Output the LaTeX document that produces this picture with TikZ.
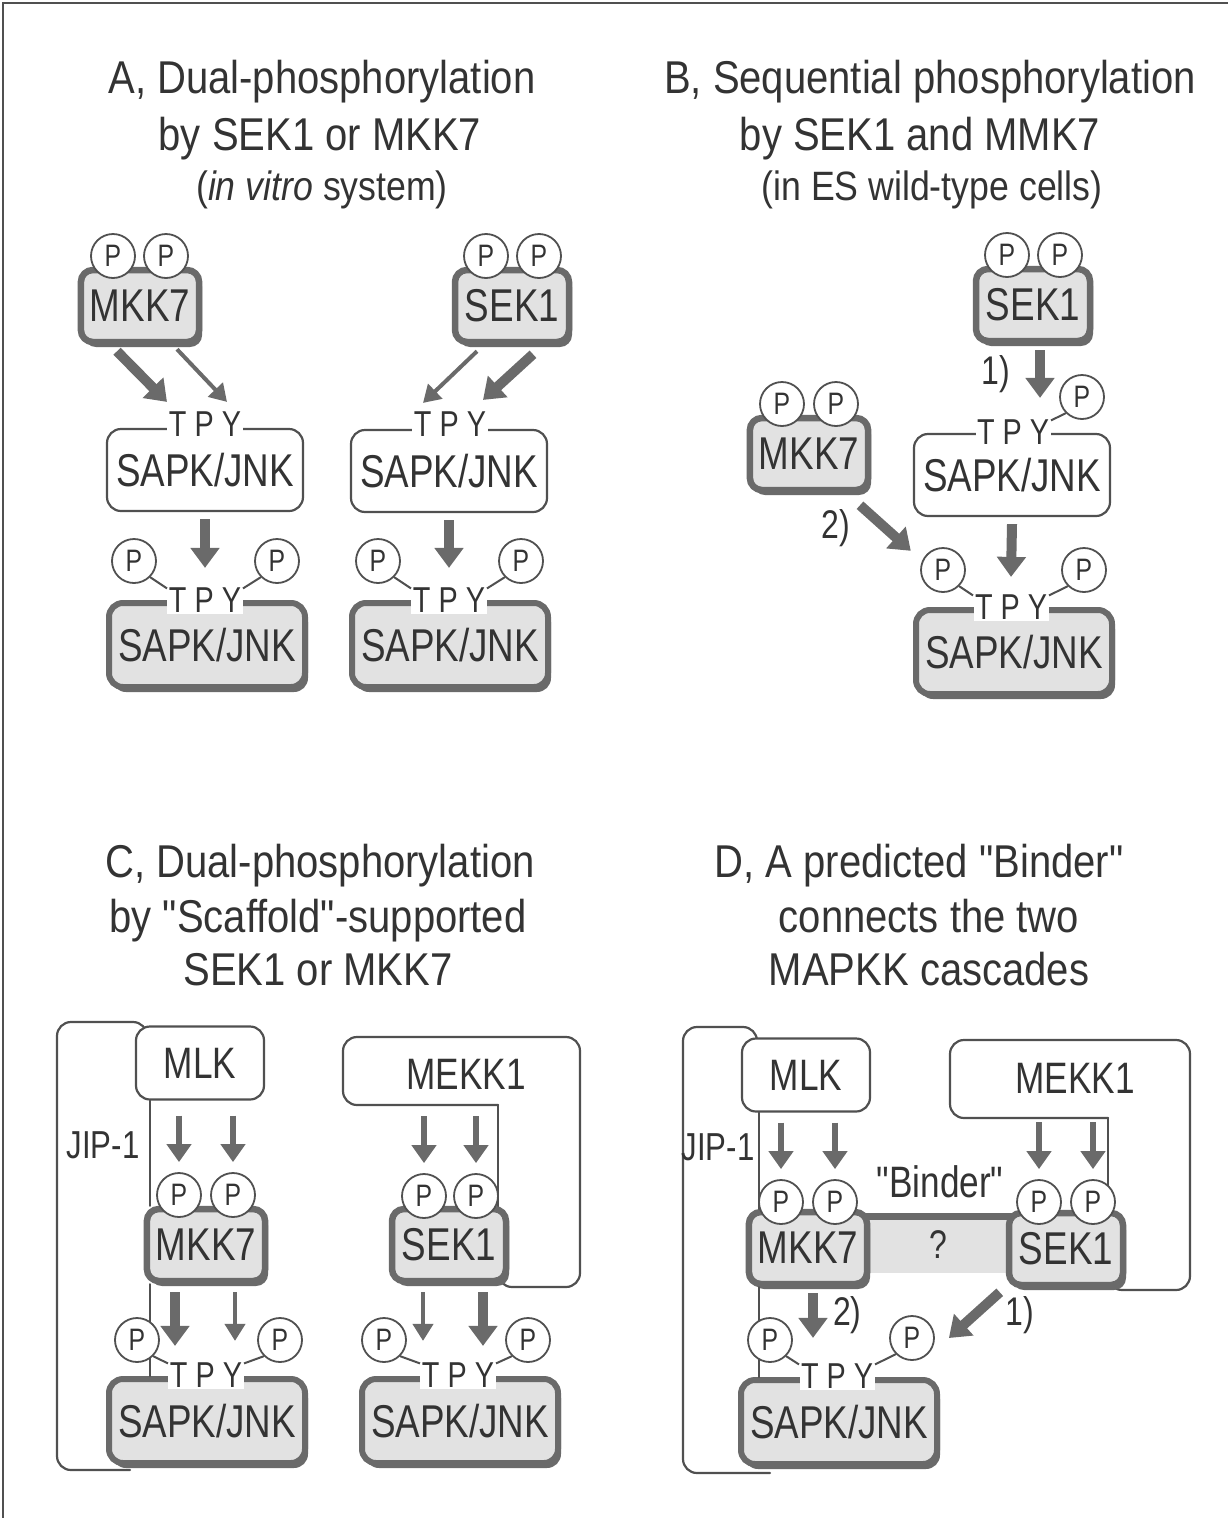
\documentclass[tikz,border=0pt]{standalone}
\usepackage{fontspec}
\newfontfamily\hvnarrow{Liberation Sans}[FakeStretch=0.8]
\newfontfamily\hvtitle{Liberation Sans}[FakeStretch=0.87]
\usepackage{tikz}
\usetikzlibrary{arrows.meta,positioning,calc,shadows}
\usepackage{xcolor}
\definecolor{kdark}{HTML}{6A6A6A}
\definecolor{kline}{HTML}{505050}
\definecolor{kfill}{HTML}{E2E2E2}
\definecolor{ktext}{HTML}{333333}
\tikzset{
  ttl/.style={anchor=base, inner sep=0pt, text=ktext, font=\hvtitle\fontsize{46}{46}\selectfont},
  subttl/.style={ttl, font=\hvtitle\fontsize{41}{41}\selectfont},
  kin/.style={draw=kdark, line width=6.5pt, fill=kfill, rounded corners=12pt, minimum width=114pt, minimum height=72pt, inner xsep=9pt, text=ktext, font=\hvnarrow\fontsize{46}{46}\selectfont, drop shadow={shadow xshift=3pt, shadow yshift=-5pt, fill=kdark, opacity=1}},
  pho/.style={circle, draw=kline, line width=1.8pt, fill=white, minimum size=44pt, inner sep=0pt, text=ktext, font=\hvnarrow\fontsize{31}{31}\selectfont},
  jnk/.style={draw=kline, line width=2.2pt, fill=white, rounded corners=14pt, minimum width=196pt, minimum height=82pt, text=ktext, font=\hvnarrow\fontsize{46}{46}\selectfont},
  pjnk/.style={jnk, draw=kdark, line width=6pt, fill=kfill, minimum height=84pt, drop shadow={shadow xshift=3pt, shadow yshift=-5pt, fill=kdark, opacity=1}},
  mbox/.style={draw=kline, line width=2.2pt, fill=white, rounded corners=14pt, minimum width=128pt, minimum height=73pt, text=ktext, font=\hvnarrow\fontsize{44}{44}\selectfont},
  tpy/.style={fill=white, inner sep=1.5pt, text=ktext, font=\hvnarrow\fontsize{36}{36}\selectfont},
  lbl/.style={inner sep=1pt, text=ktext, font=\hvnarrow\fontsize{44}{44}\selectfont},
  jip/.style={lbl, font=\hvnarrow\fontsize{39}{39}\selectfont},
  num/.style={inner sep=0pt, text=ktext, font=\hvnarrow\fontsize{40}{40}\selectfont},
  bind/.style={fill=kfill, minimum width=150pt, minimum height=56pt, inner sep=0pt, text=ktext, font=\hvnarrow\fontsize{40}{40}\selectfont},
  bindtop/.style={draw=kdark, line width=7pt},
  thk/.style={-{Triangle[length=20pt,width=28pt]}, line width=10pt, draw=kdark},
  thn/.style={-{Triangle[length=17pt,width=20pt]}, line width=4pt, draw=kdark},
  mid/.style={-{Triangle[length=18pt,width=24pt]}, line width=5.5pt, draw=kdark},
  lnk/.style={draw=kline, line width=2pt},
  scaf/.style={draw=kline, line width=2.2pt, line cap=round},
  frm/.style={draw=kline, line width=2.5pt}
}
\begin{document}
\begin{tikzpicture}[x=1pt,y=-1pt]
  \useasboundingbox (0,0) rectangle (1228,1518);
  \draw[frm] (3,1518) -- (3,3) -- (1228,3);

  \node[ttl] (ttlA1) at (322,93) {A, Dual-phosphorylation};
  \node[ttl] (ttlA2) at (320,150) {by SEK1 or MKK7};
  \node[subttl] (ttlA3) at (322,200) {(\textit{in vitro} system)};
  \node[ttl] (ttlB1) at (930,93) {B, Sequential phosphorylation};
  \node[ttl] (ttlB2) at (920,150) {by SEK1 and MMK7};
  \node[subttl] (ttlB3) at (932,200) {(in ES wild-type cells)};
  \node[ttl] (ttlC1) at (320,877) {C, Dual-phosphorylation};
  \node[ttl] (ttlC2) at (318,932) {by "Scaffold"-supported};
  \node[ttl] (ttlC3) at (318,985) {SEK1 or MKK7};
  \node[ttl] (ttlD1) at (919,877) {D, A predicted "Binder"};
  \node[ttl] (ttlD2) at (929,932) {connects the two};
  \node[ttl] (ttlD3) at (929,985) {MAPKK cascades};

  \node[kin] (mkA) at (140,306) {MKK7};
  \node[pho] (pA1) at (113,256) {P};
  \node[pho] (pA2) at (166,256) {P};
  \node[kin] (sekA) at (512,306) {SEK1};
  \node[pho] (pA3) at (486,256) {P};
  \node[pho] (pA4) at (539,256) {P};
  \node[jnk] (jnkA1) at (205,470) {SAPK/JNK};
  \node[tpy] (tpyA1) at (205,424) {T P Y};
  \node[jnk] (jnkA2) at (449,471) {SAPK/JNK};
  \node[tpy] (tpyA2) at (450,424) {T P Y};
  \node[pjnk] (jnkA3) at (207,645) {SAPK/JNK};
  \node[tpy] (tpyA3) at (205,600) {T P Y};
  \node[pho] (pA5) at (134,561) {P};
  \node[pho] (pA6) at (277,561) {P};
  \node[pjnk] (jnkA4) at (450,645) {SAPK/JNK};
  \node[tpy] (tpyA4) at (449,600) {T P Y};
  \node[pho] (pA7) at (378,561) {P};
  \node[pho] (pA8) at (521,561) {P};
  \draw[thk] ([xshift=-23pt,yshift=-6pt]mkA.south) -- ([xshift=-38pt,yshift=8pt]tpyA1.north);
  \draw[thn] ([xshift=37pt,yshift=-4pt]mkA.south) -- ([xshift=22pt,yshift=8pt]tpyA1.north);
  \draw[thn] ([xshift=-35pt,yshift=-6pt]sekA.south) -- ([xshift=-27pt,yshift=7pt]tpyA2.north);
  \draw[thk] ([xshift=21pt,yshift=-9pt]sekA.south) -- ([xshift=33pt,yshift=10pt]tpyA2.north);
  \draw[thk] ([yshift=-7pt]jnkA1.south) -- ([yshift=18pt]tpyA3.north);
  \draw[thk] ([yshift=-7pt]jnkA2.south) -- ([yshift=18pt]tpyA4.north);
  \draw[lnk] (pA5.-45) -- ([xshift=-38pt,yshift=-2.5pt]tpyA3.north);
  \draw[lnk] (pA6.-135) -- ([xshift=38pt,yshift=-2.5pt]tpyA3.north);
  \draw[lnk] (pA7.-45) -- ([xshift=-38pt,yshift=-2.5pt]tpyA4.north);
  \draw[lnk] (pA8.-135) -- ([xshift=38pt,yshift=-2.5pt]tpyA4.north);

  \node[kin] (sekB) at (1033,305) {SEK1};
  \node[pho] (pB1) at (1007,255) {P};
  \node[pho] (pB2) at (1060,255) {P};
  \node[jnk] (jnkB1) at (1012,475) {SAPK/JNK};
  \node[tpy] (tpyB1) at (1013,432) {T P Y};
  \node[pho] (pB3) at (1082,397) {P};
  \node[kin] (mkB) at (809,454) {MKK7};
  \node[pho] (pB6) at (782,404) {P};
  \node[pho] (pB7) at (836,404) {P};
  \node[pjnk] (jnkB2) at (1014,652) {SAPK/JNK};
  \node[tpy] (tpyB2) at (1011,607) {T P Y};
  \node[pho] (pB4) at (943,570) {P};
  \node[pho] (pB5) at (1084,570) {P};
  \draw[thk] ([xshift=7pt,yshift=-6pt]sekB.south) -- node[num,left=25pt] (lb1B) {1)} ([xshift=27pt,yshift=20pt]tpyB1.north);
  \draw[thk] ([xshift=51pt,yshift=-12pt]mkB.south) -- node[num,left=30pt] (lb2B) {2)} ([xshift=-16pt,yshift=3pt]pB4.north west);
  \draw[thk] ([yshift=-7pt]jnkB1.south) -- ([yshift=16pt]tpyB2.north);
  \draw[lnk] (pB3.-135) -- ([xshift=38pt,yshift=-2.5pt]tpyB1.north);
  \draw[lnk] (pB4.-45) -- ([xshift=-38pt,yshift=-2.5pt]tpyB2.north);
  \draw[lnk] (pB5.-135) -- ([xshift=38pt,yshift=-2.5pt]tpyB2.north);

  \draw[scaf, rounded corners=14pt] (147,1042) |- (57,1022) |- (130,1470);
  \draw[scaf, rounded corners=14pt] (498,1105) -| (343,1037) -| (580,1287) -| (498,1250);
  \draw[scaf] (498,1105) -- (498,1215);
  \node[mbox] (mlkC) at (200,1063) {MLK};
  \node[jip] (jipC) at (103,1145) {JIP-1};
  \node[lbl] (mekC) at (466,1074) {MEKK1};
  \node[kin] (mkC) at (206,1245) {MKK7};
  \node[pho] (pC1) at (179,1195) {P};
  \node[pho] (pC2) at (233,1195) {P};
  \node[kin] (sekC) at (449,1245) {SEK1};
  \node[pho] (pC5) at (424,1196) {P};
  \node[pho] (pC6) at (476,1196) {P};
  \draw[scaf] ([xshift=15pt]mlkC.south west) -- ([xshift=15pt]mlkC.south west |- mkC.north);
  \node[pjnk] (jnkC1) at (207,1421) {SAPK/JNK};
  \node[tpy] (tpyC1) at (206,1375) {T P Y};
  \draw[scaf] ([xshift=15pt]mlkC.south west |- mkC.south) -- ([xshift=15pt]mlkC.south west |- jnkC1.north);
  \node[pho] (pC3) at (137,1340) {P};
  \node[pho] (pC4) at (280,1340) {P};
  \node[pjnk] (jnkC2) at (460,1421) {SAPK/JNK};
  \node[tpy] (tpyC2) at (458,1375) {T P Y};
  \node[pho] (pC7) at (384,1340) {P};
  \node[pho] (pC8) at (528,1340) {P};
  \draw[mid] ([xshift=-21pt,yshift=-15pt]mlkC.south) -- ([yshift=10pt]pC1.north);
  \draw[mid] ([xshift=33pt,yshift=-15pt]mlkC.south) -- ([yshift=10pt]pC2.north);
  \draw[mid] ([xshift=-42pt,yshift=-26pt]mekC.south) -- ([yshift=10pt]pC5.north);
  \draw[mid] ([xshift=10pt,yshift=-26pt]mekC.south) -- ([yshift=10pt]pC6.north);
  \draw[thk] ([xshift=-31pt,yshift=-8pt]mkC.south) -- ([xshift=-31pt,yshift=15pt]tpyC1.north);
  \draw[thn] ([xshift=29pt,yshift=-8pt]mkC.south) -- ([xshift=29pt,yshift=20pt]tpyC1.north);
  \draw[thn] ([xshift=-26pt,yshift=-8pt]sekC.south) -- ([xshift=-35pt,yshift=20pt]tpyC2.north);
  \draw[thk] ([xshift=34pt,yshift=-8pt]sekC.south) -- ([xshift=25pt,yshift=15pt]tpyC2.north);
  \draw[lnk] (pC3.-45) -- ([xshift=-38pt,yshift=-2.5pt]tpyC1.north);
  \draw[lnk] (pC4.-135) -- ([xshift=38pt,yshift=-2.5pt]tpyC1.north);
  \draw[lnk] (pC7.-45) -- ([xshift=-38pt,yshift=-2.5pt]tpyC2.north);
  \draw[lnk] (pC8.-135) -- ([xshift=38pt,yshift=-2.5pt]tpyC2.north);

  \draw[scaf, rounded corners=14pt] (757,1050) |- (683,1027) |- (770,1473);
  \draw[scaf, rounded corners=14pt] (1108,1118) -| (950,1040) -| (1190,1290) -| (1108,1255);
  \draw[scaf] (1108,1118) -- (1108,1215);
  \node[mbox] (mlkD) at (806,1075) {MLK};
  \node[jip] (jipD) at (718,1147) {JIP-1};
  \node[lbl] (mekD) at (1075,1078) {MEKK1};
  \node[lbl] (bindlbD) at (940,1182) {"Binder"};
  \node[bind] (bindD) at (938,1245) {?};
  \draw[bindtop] (bindD.north west) -- (bindD.north east);
  \node[kin] (mkD) at (808,1248) {MKK7};
  \node[pho] (pD1) at (781,1202) {P};
  \node[pho] (pD2) at (835,1202) {P};
  \node[kin] (sekD) at (1066,1249) {SEK1};
  \node[pho] (pD3) at (1039,1202) {P};
  \node[pho] (pD4) at (1093,1202) {P};
  \draw[scaf] ([xshift=18pt]mlkD.south west) -- ([xshift=18pt]mlkD.south west |- mkD.north);
  \node[pjnk] (jnkD) at (839,1422) {SAPK/JNK};
  \node[tpy] (tpyD) at (837,1376) {T P Y};
  \draw[scaf] ([xshift=18pt]mlkD.south west |- mkD.south) -- ([xshift=18pt]mlkD.south west |- jnkD.north);
  \node[pho] (pD5) at (770,1340) {P};
  \node[pho] (pD6) at (912,1338) {P};
  \draw[mid] ([xshift=-25pt,yshift=-10pt]mlkD.south) -- ([yshift=10pt]pD1.north);
  \draw[mid] ([xshift=29pt,yshift=-10pt]mlkD.south) -- ([yshift=10pt]pD2.north);
  \draw[mid] ([xshift=-36pt,yshift=-28pt]mekD.south) -- ([yshift=10pt]pD3.north);
  \draw[mid] ([xshift=18pt,yshift=-28pt]mekD.south) -- ([yshift=10pt]pD4.north);
  \draw[thk] ([xshift=5pt,yshift=-6pt]mkD.south) -- node[num,right=15pt] (lb2D) {2)} ([xshift=-24pt,yshift=24pt]tpyD.north);
  \draw[thk] ([xshift=-6pt,yshift=-4pt]sekD.south west) -- node[num,right=26pt] (lb1D) {1)} ([xshift=14pt]pD6.east);
  \draw[lnk] (pD5.-45) -- ([xshift=-38pt,yshift=-2.5pt]tpyD.north);
  \draw[lnk] (pD6.-135) -- ([xshift=38pt,yshift=-2.5pt]tpyD.north);
\end{tikzpicture}
\end{document}
